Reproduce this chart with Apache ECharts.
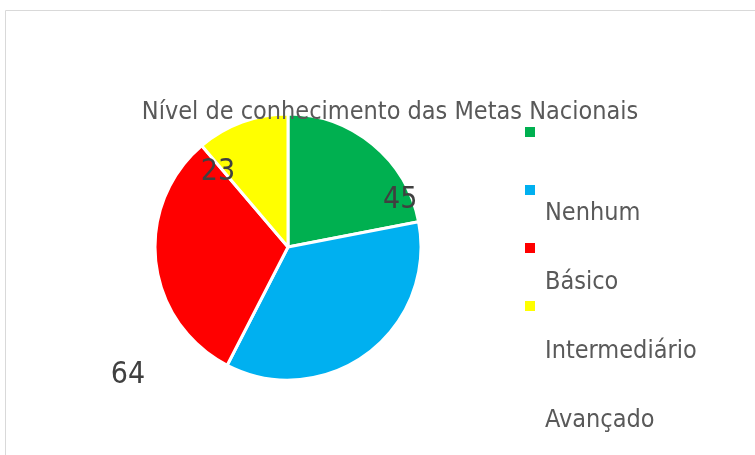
<!DOCTYPE html>
<html>
<head>
<meta charset="utf-8">
<script src="https://cdn.jsdelivr.net/npm/echarts@6/dist/echarts.min.js"></script>
<style>
  html, body { margin: 0; padding: 0; background: #fff; }
  #chart { width: 755px; height: 455px; }
</style>
</head>
<body>
<div id="chart"></div>
<script>
const categories = ['Nenhum', 'Básico', 'Intermediário', 'Avançado']
const values = [45, 73, 64, 23]
const colors = ['#00B050', '#00B0F0', '#FF0000', '#FFFF00']
const showValue = [true, false, true, true]

// where Excel put the data labels, relative to the inside position
const labelOffsets = [[68, 7], [0, 0], [-91, 120], [-46, -10]]

const font = "'Liberation Sans Narrow', 'DejaVu Sans Condensed', sans-serif"

const chart = echarts.init(document.getElementById('chart'))

const pieData = categories.map((name, i) => ({
    name: name,
    value: values[i],
    itemStyle: { color: colors[i] },
    label: {
        show: showValue[i],
        offset: labelOffsets[i]
    }
}))

const option = {
    animation: false,
    title: {
        text: 'Nível de conhecimento das Metas Nacionais',
        left: 385,
        top: 95,
        textAlign: 'center',
        textStyle: {
            fontFamily: font,
            fontSize: 25,
            fontWeight: 'normal',
            color: '#595959'
        }
    },
    graphic: [{
        type: 'rect',
        shape: { x: 5.5, y: 10.5, width: 760, height: 460 },
        style: { fill: 'none', stroke: '#d9d9d9', lineWidth: 1 },
        silent: true
    }],
    legend: [
        {
            // colour boxes
            orient: 'vertical',
            left: 525,
            top: 127,
            padding: 0,
            icon: 'rect',
            itemWidth: 10,
            itemHeight: 10,
            itemGap: 48,
            itemStyle: { borderWidth: 0 },
            data: categories,
            formatter: () => '',
            textStyle: { fontSize: 10, lineHeight: 10 }
        },
        {
            // labels, drawn lower than the boxes like in the original
            orient: 'vertical',
            left: 540,
            top: 201,
            padding: 0,
            icon: 'none',
            itemWidth: 0,
            itemHeight: 25,
            itemGap: 44,
            data: categories,
            textStyle: {
                fontFamily: font,
                fontSize: 25,
                lineHeight: 25,
                color: '#595959'
            }
        }
    ],
    series: [
        {
            type: 'pie',
            center: [288, 247],
            radius: 133,
            startAngle: 90,
            clockwise: true,
            itemStyle: { borderColor: '#fff', borderWidth: 3 },
            label: {
                position: 'inside',
                formatter: '{c}',
                fontFamily: font,
                fontSize: 30,
                color: '#404040'
            },
            labelLine: { show: false },
            emphasis: { disabled: true },
            data: pieData
        }
    ]
}

chart.setOption(option)
</script>
</body>
</html>
